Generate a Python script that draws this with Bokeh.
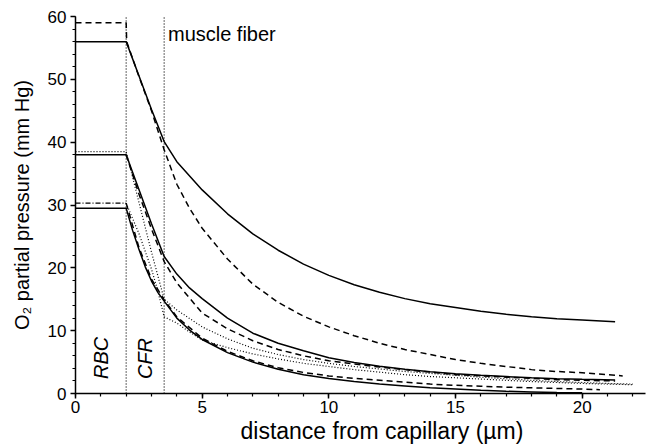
from bokeh.plotting import figure
from bokeh.embed import file_html
from bokeh.resources import INLINE
from bokeh.models import Range1d, SingleIntervalTicker, ColumnDataSource, Title
from bokeh.core.properties import value
import math

FONT = "Liberation Sans"

# ---- data ----
region_bounds = [2.0, 3.5]

a_solid_x = [0, 2, 2.5, 3, 3.5, 4, 5, 6, 7, 8, 9, 10, 11, 12, 13, 14, 15, 16, 17, 18, 19, 20, 21.3]
a_solid_y = [56, 56, 50.6, 45.2, 40.1, 36.9, 32.4, 28.6, 25.4, 22.8, 20.6, 18.8, 17.3, 16.1, 15.1, 14.3, 13.7, 13.1, 12.6, 12.2, 11.9, 11.7, 11.4]

a_dashed_x = [0, 2, 2.02, 2.5, 3, 3.5, 4, 4.5, 5, 6, 7, 8, 9, 10, 11, 12, 13, 14, 15, 16, 17, 18, 19, 20, 21.6]
a_dashed_y = [59, 59, 56, 50.5, 45, 38.8, 33.3, 29.5, 26.3, 21.4, 17.4, 14.5, 12.3, 10.6, 9.2, 8.0, 7.0, 6.2, 5.4, 4.8, 4.3, 3.8, 3.5, 3.3, 2.8]

b_solid_x = [0, 2, 2.5, 3, 3.5, 4, 4.5, 5, 6, 7, 8, 9, 10, 11, 12, 13, 14, 15, 16, 17, 18, 19, 20, 21.3]
b_solid_y = [38, 38, 32.5, 27, 21.8, 19.0, 16.8, 15.1, 12.0, 9.6, 8.0, 6.8, 5.7, 4.95, 4.35, 3.85, 3.45, 3.15, 2.9, 2.7, 2.5, 2.35, 2.25, 2.15]

b_dotted_x = [0, 2, 2.5, 3, 3.5, 4, 5, 6, 7, 8, 9, 10, 11, 12, 13, 14, 15, 16, 17, 18, 19, 20, 21, 22]
b_dotted_y = [38.5, 38.5, 30.5, 22.5, 15.0, 13.3, 10.6, 8.7, 7.2, 6.2, 5.4, 4.8, 4.3, 3.9, 3.5, 3.2, 2.9, 2.6, 2.35, 2.1, 1.9, 1.75, 1.6, 1.5]

b_dashed_x = [2, 2.5, 3, 3.5, 4, 5, 6, 7, 8, 9, 10, 11, 12, 13, 14, 15, 16, 17, 18, 19, 20, 21.3]
b_dashed_y = [38, 31.8, 26.2, 21.0, 17.6, 12.8, 10.3, 8.4, 7.0, 6.0, 5.2, 4.7, 4.2, 3.8, 3.4, 3.0, 2.8, 2.6, 2.4, 2.2, 2.1, 2.0]

c_solid_x = [0, 2, 2.25, 2.5, 2.75, 3, 3.25, 3.5, 4, 4.5, 5, 6, 7, 8, 9, 10, 11, 12, 13, 14, 15, 16, 17, 18, 19, 20]
c_solid_y = [29.5, 29.5, 26.0, 23.0, 20.2, 17.9, 16.1, 14.7, 12.0, 10.1, 8.6, 6.5, 5.0, 3.85, 3.0, 2.4, 1.9, 1.5, 1.2, 0.9, 0.7, 0.5, 0.35, 0.25, 0.15, 0.1]

c_dashdot_x = [0, 2]
c_dashdot_y = [30.3, 30.3]

c_dotted_x = [2, 2.5, 3, 3.25, 3.5, 4, 4.5, 5, 6, 7, 8, 9, 10, 11, 12, 13, 14, 15, 16, 17, 18, 19, 20, 21, 22]
c_dotted_y = [30.3, 25.5, 19.8, 16.3, 12.2, 11.2, 9.8, 8.5, 7.3, 6.3, 5.5, 4.8, 4.3, 3.8, 3.4, 3.0, 2.7, 2.5, 2.3, 2.1, 1.9, 1.75, 1.6, 1.5, 1.4]

c_dashed_x = [2, 2.5, 3, 3.5, 4, 5, 6, 7, 8, 9, 10, 11, 12, 13, 14, 15, 16, 17, 18, 19, 20, 20.7]
c_dashed_y = [30.3, 23.3, 18.2, 14.9, 12.2, 8.8, 6.7, 5.2, 4.1, 3.35, 2.8, 2.4, 2.1, 1.8, 1.5, 1.3, 1.15, 1.0, 0.9, 0.8, 0.7, 0.6]

region_labels = ["RBC", "CFR"]
region_label_x = [1.0, 2.75]
region_label_y = [2.3, 2.3]

x_title = "distance from capillary (µm)"
y_title = "O₂ partial pressure (mm Hg)"

# ---- figure ----
p = figure(width=648, height=444, output_backend="svg", toolbar_location=None,
           x_range=Range1d(0, 22.5), y_range=Range1d(0, 60),
           min_border_left=75, min_border_right=3, min_border_top=16, min_border_bottom=51)
p.grid.visible = False
p.outline_line_color = None
p.background_fill_color = "white"
p.border_fill_color = "white"

for ax in (p.xaxis[0], p.yaxis[0]):
    ax.axis_line_width = 1.5
    ax.major_tick_line_width = 1.5
    ax.minor_tick_line_width = 1.2
    ax.major_tick_out = 5
    ax.major_tick_in = 0
    ax.minor_tick_out = 3
    ax.minor_tick_in = 0
    ax.major_label_text_font = FONT
    ax.major_label_text_font_size = "17px"
    ax.major_label_text_color = "black"
    ax.axis_label_text_font = FONT
    ax.axis_label_text_font_style = "normal"
    ax.axis_label_text_color = "black"

p.yaxis.axis_label_text_font_size = "20px"
p.xaxis.ticker = SingleIntervalTicker(interval=5, num_minor_ticks=5)
p.yaxis.ticker = SingleIntervalTicker(interval=10, num_minor_ticks=5)
p.yaxis.axis_label = y_title
p.xaxis.major_label_standoff = 2
p.yaxis.major_label_standoff = 4
p.yaxis.axis_label_standoff = 12

# x-axis title, a little right of centre as in the reference
p.add_layout(Title(text=x_title, align="left", offset=165, standoff=0,
                   text_font=FONT, text_font_size="23px", text_font_style="normal",
                   text_color="black"), "below")

# region boundaries
for b in region_bounds:
    p.segment(x0=[b], y0=[0], x1=[b], y1=[60], line_color="black",
              line_width=1.2, line_dash="1 2")

lw = 1.5
p.line(a_solid_x, a_solid_y, line_color="black", line_width=lw)
p.line(a_dashed_x, a_dashed_y, line_color="black", line_width=lw, line_dash="6 4")
p.line(b_solid_x, b_solid_y, line_color="black", line_width=lw)
p.line(b_dotted_x, b_dotted_y, line_color="black", line_width=1.2, line_dash="1 2")
p.line(b_dashed_x, b_dashed_y, line_color="black", line_width=lw, line_dash="6 4")
p.line(c_solid_x, c_solid_y, line_color="black", line_width=lw)
p.line(c_dashdot_x, c_dashdot_y, line_color="black", line_width=1.2, line_dash="5 2 1 2")
p.line(c_dotted_x, c_dotted_y, line_color="black", line_width=1.2, line_dash="1 2")
p.line(c_dashed_x, c_dashed_y, line_color="black", line_width=lw, line_dash="6 4")

src = ColumnDataSource(dict(x=region_label_x, y=region_label_y, t=region_labels))
p.text(x="x", y="y", text="t", source=src, angle=math.pi / 2,
       text_font=value(FONT), text_font_size="20px", text_font_style="italic",
       text_align="left", text_baseline="middle", text_color="black")

p.text(x=[3.65], y=[57.2], text=["muscle fiber"], text_font=value(FONT),
       text_font_size="20px", text_align="left", text_baseline="alphabetic",
       text_color="black")

open("out.html", "w").write(file_html(p, INLINE))
